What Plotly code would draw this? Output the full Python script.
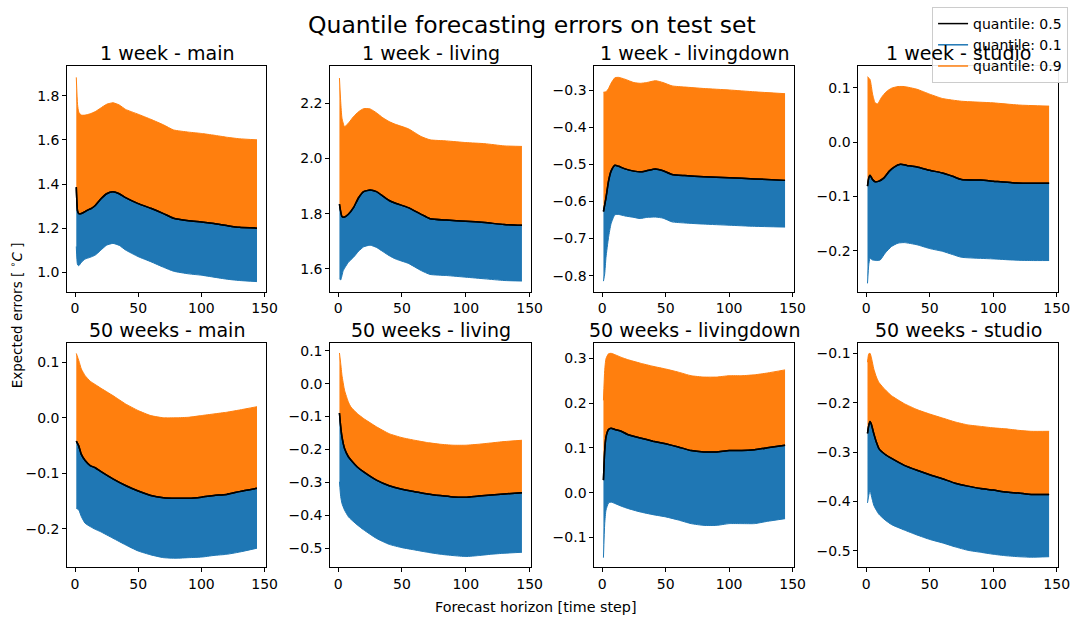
import plotly.graph_objects as go

W, H = 1086, 619
BLUE = "#1f77b4"
ORANGE = "#ff7f0e"
BLACK = "#000000"
FONT = "DejaVu Sans"

SUPTITLE = "Quantile forecasting errors on test set"
X_LABEL = "Forecast horizon [time step]"
Y_LABEL = "Expected errors [ <sup>∘</sup><i>C</i> ]"
X_TICKS = [0, 50, 100, 150]
LEGEND_NAMES = ["quantile: 0.5", "quantile: 0.1", "quantile: 0.9"]
TITLES = ["1 week - main", "1 week - living", "1 week - livingdown", "1 week - studio",
          "50 weeks - main", "50 weeks - living", "50 weeks - livingdown", "50 weeks - studio"]

# ---- 1 week - main
w1_main_x90 = [1, 2, 3, 5, 8, 12, 16, 20, 25, 30, 35, 40, 50, 60, 70, 78, 90, 100, 110, 120, 130, 144]
w1_main_q90 = [1.883, 1.76, 1.725, 1.712, 1.712, 1.718, 1.728, 1.743, 1.761, 1.768, 1.758, 1.738, 1.716, 1.693, 1.668, 1.645, 1.635, 1.629, 1.621, 1.612, 1.605, 1.600]
w1_main_x50 = [1, 2, 3, 5, 8, 10, 13, 16, 20, 25, 30, 35, 40, 50, 60, 70, 78, 90, 100, 110, 120, 130, 144]
w1_main_q50 = [1.386, 1.278, 1.266, 1.266, 1.275, 1.282, 1.290, 1.303, 1.330, 1.356, 1.365, 1.356, 1.338, 1.311, 1.290, 1.266, 1.245, 1.234, 1.228, 1.221, 1.212, 1.204, 1.200]
w1_main_x10 = [1, 2, 3, 5, 8, 12, 16, 20, 25, 30, 35, 40, 50, 60, 70, 78, 90, 100, 110, 120, 130, 144]
w1_main_q10 = [1.117, 1.034, 1.030, 1.045, 1.060, 1.068, 1.078, 1.098, 1.123, 1.131, 1.122, 1.101, 1.071, 1.048, 1.023, 1.005, 0.993, 0.987, 0.978, 0.969, 0.963, 0.958]

# ---- 1 week - living
w1_living_x90 = [1, 2, 3, 5, 8, 12, 16, 20, 25, 30, 35, 40, 45, 55, 65, 72, 85, 100, 115, 130, 144]
w1_living_q90 = [2.292, 2.206, 2.146, 2.116, 2.128, 2.152, 2.170, 2.181, 2.180, 2.166, 2.148, 2.134, 2.124, 2.108, 2.080, 2.068, 2.064, 2.058, 2.054, 2.046, 2.044]
w1_living_x50 = [1, 3, 5, 8, 12, 16, 20, 25, 30, 35, 40, 45, 55, 65, 72, 85, 100, 115, 130, 144]
w1_living_q50 = [1.835, 1.790, 1.788, 1.798, 1.822, 1.858, 1.880, 1.886, 1.880, 1.864, 1.848, 1.838, 1.822, 1.798, 1.782, 1.777, 1.773, 1.768, 1.761, 1.758]
w1_living_x10 = [1, 2, 4, 8, 12, 16, 20, 25, 30, 35, 40, 45, 55, 65, 72, 85, 100, 115, 130, 144]
w1_living_q10 = [1.564, 1.560, 1.594, 1.624, 1.642, 1.664, 1.680, 1.686, 1.678, 1.663, 1.648, 1.636, 1.620, 1.594, 1.580, 1.576, 1.570, 1.564, 1.558, 1.556]

# ---- 1 week - livingdown
w1_ld_x90 = [1, 3, 5, 7, 10, 13, 18, 25, 30, 35, 42, 48, 55, 65, 80, 100, 120, 144]
w1_ld_q90 = [-0.305, -0.304, -0.295, -0.281, -0.266, -0.265, -0.270, -0.279, -0.281, -0.279, -0.274, -0.279, -0.288, -0.291, -0.295, -0.299, -0.304, -0.309]
w1_ld_x50 = [1, 3, 5, 7, 10, 13, 18, 25, 30, 35, 42, 48, 55, 65, 80, 100, 120, 144]
w1_ld_q50 = [-0.627, -0.590, -0.545, -0.518, -0.502, -0.505, -0.512, -0.518, -0.520, -0.517, -0.512, -0.517, -0.527, -0.530, -0.533, -0.536, -0.539, -0.543]
w1_ld_x10 = [1, 2, 3, 5, 7, 10, 13, 18, 25, 30, 35, 42, 48, 55, 65, 80, 100, 120, 144]
w1_ld_q10 = [-0.815, -0.795, -0.751, -0.697, -0.660, -0.636, -0.635, -0.639, -0.643, -0.646, -0.643, -0.642, -0.645, -0.655, -0.658, -0.661, -0.664, -0.667, -0.669]

# ---- 1 week - studio
w1_studio_x90 = [1, 3, 5, 7, 9, 12, 16, 20, 25, 30, 40, 50, 60, 75, 100, 120, 144]
w1_studio_q90 = [0.120, 0.115, 0.088, 0.072, 0.070, 0.082, 0.093, 0.099, 0.102, 0.102, 0.097, 0.088, 0.080, 0.075, 0.072, 0.068, 0.066]
w1_studio_x50 = [1, 2, 3, 5, 7, 10, 14, 18, 22, 27, 32, 40, 50, 60, 68, 75, 90, 100, 115, 130, 144]
w1_studio_q50 = [-0.081, -0.066, -0.061, -0.069, -0.073, -0.072, -0.066, -0.054, -0.046, -0.041, -0.043, -0.046, -0.052, -0.057, -0.063, -0.069, -0.070, -0.072, -0.075, -0.076, -0.076]
w1_studio_x10 = [1, 2, 3, 5, 8, 11, 15, 20, 25, 30, 40, 50, 60, 68, 75, 90, 100, 115, 130, 144]
w1_studio_q10 = [-0.260, -0.226, -0.214, -0.217, -0.218, -0.217, -0.204, -0.192, -0.186, -0.185, -0.189, -0.196, -0.201, -0.207, -0.212, -0.214, -0.215, -0.217, -0.218, -0.218]

# ---- 50 weeks - main
w50_main_x = [1, 3, 5, 8, 12, 16, 20, 30, 40, 50, 60, 70, 80, 90, 100, 110, 120, 130, 144]
w50_main_q90 = [0.116, 0.103, 0.088, 0.076, 0.066, 0.060, 0.054, 0.040, 0.025, 0.013, 0.004, 0.000, 0.000, 0.001, 0.004, 0.007, 0.010, 0.014, 0.020]
w50_main_q50 = [-0.042, -0.051, -0.066, -0.077, -0.086, -0.090, -0.096, -0.110, -0.122, -0.132, -0.140, -0.144, -0.145, -0.145, -0.143, -0.140, -0.138, -0.133, -0.127]
w50_main_q10 = [-0.163, -0.166, -0.178, -0.190, -0.196, -0.201, -0.205, -0.217, -0.229, -0.240, -0.247, -0.252, -0.253, -0.252, -0.251, -0.248, -0.246, -0.242, -0.235]

# ---- 50 weeks - living
w50_living_x = [1, 2, 3, 5, 8, 10, 15, 20, 30, 40, 50, 60, 70, 80, 90, 100, 110, 120, 130, 144]
w50_living_q90 = [0.093, 0.061, 0.025, -0.020, -0.056, -0.071, -0.091, -0.106, -0.131, -0.152, -0.164, -0.172, -0.179, -0.184, -0.187, -0.187, -0.184, -0.180, -0.176, -0.172]
w50_living_q50 = [-0.089, -0.131, -0.162, -0.197, -0.222, -0.232, -0.253, -0.268, -0.293, -0.310, -0.321, -0.328, -0.335, -0.340, -0.344, -0.345, -0.341, -0.338, -0.335, -0.331]
w50_living_q10 = [-0.298, -0.343, -0.364, -0.384, -0.404, -0.412, -0.429, -0.444, -0.470, -0.488, -0.498, -0.505, -0.512, -0.518, -0.522, -0.525, -0.522, -0.518, -0.515, -0.512]

# ---- 50 weeks - livingdown
w50_ld_x = [1, 2, 3, 5, 7, 10, 15, 20, 30, 40, 50, 60, 70, 80, 90, 100, 110, 120, 130, 144]
w50_ld_q90 = [0.206, 0.273, 0.299, 0.310, 0.311, 0.308, 0.302, 0.297, 0.289, 0.282, 0.276, 0.269, 0.261, 0.258, 0.258, 0.261, 0.261, 0.263, 0.267, 0.274]
w50_ld_q50 = [0.028, 0.094, 0.124, 0.141, 0.144, 0.141, 0.137, 0.130, 0.122, 0.115, 0.109, 0.102, 0.094, 0.091, 0.091, 0.094, 0.094, 0.096, 0.100, 0.106]
w50_ld_q10 = [-0.145, -0.069, -0.039, -0.023, -0.021, -0.024, -0.030, -0.035, -0.043, -0.049, -0.054, -0.061, -0.069, -0.073, -0.073, -0.069, -0.069, -0.069, -0.064, -0.058]

# ---- 50 weeks - studio
w50_studio_x = [1, 2, 3, 4, 6, 8, 10, 15, 20, 30, 40, 50, 60, 70, 80, 90, 100, 110, 120, 130, 144]
w50_studio_q90 = [-0.118, -0.101, -0.100, -0.108, -0.132, -0.148, -0.159, -0.174, -0.186, -0.202, -0.214, -0.223, -0.231, -0.239, -0.245, -0.248, -0.251, -0.253, -0.256, -0.258, -0.258]
w50_studio_q50 = [-0.262, -0.246, -0.238, -0.243, -0.263, -0.280, -0.293, -0.305, -0.313, -0.327, -0.337, -0.346, -0.354, -0.363, -0.369, -0.374, -0.377, -0.381, -0.383, -0.386, -0.386]
w50_studio_q10 = [-0.403, -0.388, -0.377, -0.388, -0.408, -0.418, -0.426, -0.438, -0.447, -0.458, -0.468, -0.477, -0.484, -0.492, -0.499, -0.503, -0.507, -0.510, -0.512, -0.513, -0.512]

panels = [
    (w1_main_x10, w1_main_q10, w1_main_x50, w1_main_q50, w1_main_x90, w1_main_q90),
    (w1_living_x10, w1_living_q10, w1_living_x50, w1_living_q50, w1_living_x90, w1_living_q90),
    (w1_ld_x10, w1_ld_q10, w1_ld_x50, w1_ld_q50, w1_ld_x90, w1_ld_q90),
    (w1_studio_x10, w1_studio_q10, w1_studio_x50, w1_studio_q50, w1_studio_x90, w1_studio_q90),
    (w50_main_x, w50_main_q10, w50_main_x, w50_main_q50, w50_main_x, w50_main_q90),
    (w50_living_x, w50_living_q10, w50_living_x, w50_living_q50, w50_living_x, w50_living_q90),
    (w50_ld_x, w50_ld_q10, w50_ld_x, w50_ld_q50, w50_ld_x, w50_ld_q90),
    (w50_studio_x, w50_studio_q10, w50_studio_x, w50_studio_q50, w50_studio_x, w50_studio_q90),
]

# layout geometry (pixels)
COL_L = [68, 334, 601, 868]
COL_R = [269, 537, 803, 1070]
ROW_T = [65, 343]
ROW_B = [291, 567]
Y_RANGES = [(0.913, 1.935), (1.518, 2.336), (-0.843, -0.234), (-0.275, 0.140),
            (-0.269, 0.134), (-0.557, 0.122), (-0.166, 0.333), (-0.533, -0.080)]
Y_DTICK = [0.2, 0.2, 0.1, 0.1, 0.1, 0.1, 0.1, 0.1]
Y_TICK0 = [1.0, 1.6, 0, 0, 0, 0, 0, 0]

LINE_KW = dict(shape="spline", smoothing=0.5)
TITLE_FONT = dict(family=FONT, size=19, color="black")

fig = go.Figure()
layout = dict(
    width=W, height=H, margin=dict(l=0, r=0, t=0, b=0),
    paper_bgcolor="white", plot_bgcolor="white",
    font=dict(family=FONT, size=14, color="black"),
    showlegend=True,
)
annotations = []
for i, (x10, q10, x50, q50, x90, q90) in enumerate(panels):
    n = "" if i == 0 else str(i + 1)
    xa, ya = "x" + n, "y" + n
    fig.add_trace(go.Scatter(x=x10, y=q10, mode="lines", line=dict(color=BLUE, width=1, **LINE_KW),
                             xaxis=xa, yaxis=ya, showlegend=False, hoverinfo="skip"))
    fig.add_trace(go.Scatter(x=x50, y=q50, mode="lines", fill="tonexty", fillcolor=BLUE,
                             line=dict(color=BLACK, width=1.5, **LINE_KW),
                             xaxis=xa, yaxis=ya, showlegend=False, hoverinfo="skip"))
    fig.add_trace(go.Scatter(x=x90, y=q90, mode="lines", fill="tonexty", fillcolor=ORANGE,
                             line=dict(color=ORANGE, width=1, **LINE_KW),
                             xaxis=xa, yaxis=ya, showlegend=False, hoverinfo="skip"))
    fig.add_trace(go.Scatter(x=x50, y=q50, mode="lines", line=dict(color=BLACK, width=1.5, **LINE_KW),
                             xaxis=xa, yaxis=ya, showlegend=False, hoverinfo="skip"))
    r, c = divmod(i, 4)
    axis_common = dict(showline=True, linecolor="black", linewidth=1, mirror=True,
                       ticks="outside", ticklen=4, tickwidth=1, tickcolor="black",
                       showgrid=False, zeroline=False, tickfont=dict(family=FONT, size=14, color="black"))
    layout["xaxis" + n] = dict(domain=[COL_L[c] / W, COL_R[c] / W], anchor=ya,
                               range=[-6.15, 151.15], tickvals=X_TICKS, **axis_common)
    layout["yaxis" + n] = dict(domain=[1 - ROW_B[r] / H, 1 - ROW_T[r] / H], anchor=xa,
                               range=list(Y_RANGES[i]), dtick=Y_DTICK[i], tick0=Y_TICK0[i],
                               tickformat=".1f", **axis_common)
    annotations.append(dict(text=TITLES[i], x=(COL_L[c] + COL_R[c]) / 2 / W, y=1 - ROW_T[r] / H,
                            xref="paper", yref="paper", xanchor="center", yanchor="bottom",
                            yshift=0, showarrow=False, font=TITLE_FONT))

# legend entries
for name, col in zip(LEGEND_NAMES, [BLACK, BLUE, ORANGE]):
    fig.add_trace(go.Scatter(x=[None], y=[None], mode="lines", name=name,
                             line=dict(color=col, width=1.5), showlegend=True))

annotations += [
    dict(text=SUPTITLE, x=538 / W, y=1 - 24 / H, xref="paper", yref="paper", xanchor="center",
         yanchor="middle", showarrow=False, font=dict(family=FONT, size=23.5, color="black")),
    dict(text=X_LABEL, x=541 / W, y=1 - 607 / H, xref="paper", yref="paper", xanchor="center",
         yanchor="middle", showarrow=False, font=dict(family=FONT, size=14.3, color="black")),
    dict(text=Y_LABEL, x=17 / W, y=1 - 315 / H, xref="paper", yref="paper", xanchor="center",
         yanchor="middle", textangle=-90, showarrow=False, font=dict(family=FONT, size=13.5, color="black")),
]
layout["annotations"] = annotations
layout["legend"] = dict(x=1080 / W, y=1 - 6 / H, xanchor="right", yanchor="top",
                        bgcolor="rgba(255,255,255,0.9)", bordercolor="#cccccc", borderwidth=1,
                        font=dict(family=FONT, size=14, color="black"), traceorder="normal",
                        itemwidth=30)
fig.update_layout(**layout)
fig.write_html("out.html")
